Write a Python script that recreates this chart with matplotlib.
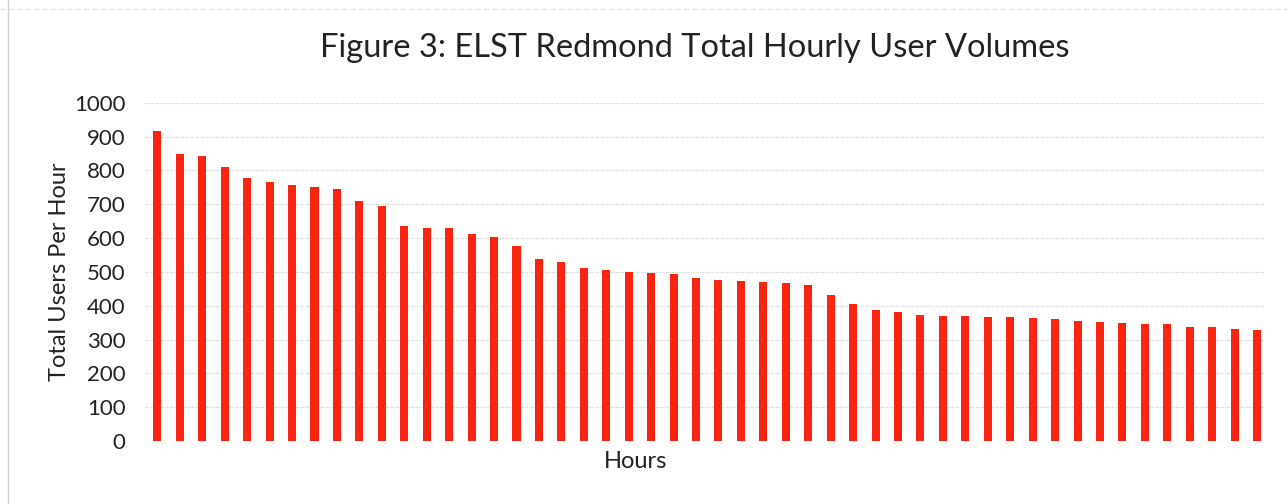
"""
ELST Redmond total hourly user volumes, sorted high to low.
"""
import matplotlib
matplotlib.use("Agg")
import matplotlib.pyplot as plt
import numpy as np

# users per hour, one bar per hour (sorted descending)
users = [918, 848, 843, 809, 777, 767, 758, 752, 745, 711,
         696, 635, 629, 629, 612, 602, 576, 539, 529, 513,
         506, 501, 496, 493, 482, 477, 474, 469, 468, 461,
         432, 405, 387, 380, 374, 371, 371, 368, 366, 365,
         361, 354, 353, 349, 346, 345, 338, 336, 331, 329]
yticks = list(range(0, 1001, 100))

plt.rcParams["font.family"] = ["Lato", "DejaVu Sans"]
TEXT = "#222222"
RED = "#fb2410"


def main():
    fig = plt.figure(figsize=(12.88, 5.04), dpi=100)
    ax = fig.add_axes([0.1126, 0.125, 0.8695, 0.671])

    x = np.arange(len(users))
    ax.bar(x, users, width=0.36, color=RED, zorder=3)

    ax.set_ylim(0, 1000)
    ax.set_xlim(-0.55, len(users) - 0.65)
    ax.set_yticks(yticks)
    ax.set_yticklabels([str(v) for v in yticks], fontsize=16, color=TEXT)
    ax.set_xticks([])
    ax.tick_params(axis="y", length=0, pad=14)
    ax.grid(axis="y", color="#e0e0e0", linewidth=0.9, linestyle=(0, (3, 1)), zorder=0)
    for s in ax.spines.values():
        s.set_visible(False)

    ax.set_ylabel("Total Users Per Hour", fontsize=17, color=TEXT, labelpad=3)
    fig.text(636 / 1288, 1 - 462 / 504, "Hours", fontsize=17, color=TEXT,
             ha="center", va="center")
    fig.text(695 / 1288, 1 - 48 / 504,
             "Figure 3: ELST Redmond Total Hourly User Volumes",
             fontsize=23.5, color=TEXT, ha="center", va="center")

    # faint page border from the scan
    fig.add_artist(plt.Line2D([8 / 1288, 8 / 1288], [0, 1], color="#cfcfcf",
                              linewidth=1, transform=fig.transFigure))
    fig.add_artist(plt.Line2D([0, 1], [1 - 9 / 504, 1 - 9 / 504], color="#e4e4e4",
                              linewidth=1, linestyle=(0, (4, 2)),
                              transform=fig.transFigure))

    fig.savefig("out.png", dpi=100)


if __name__ == "__main__":
    main()
